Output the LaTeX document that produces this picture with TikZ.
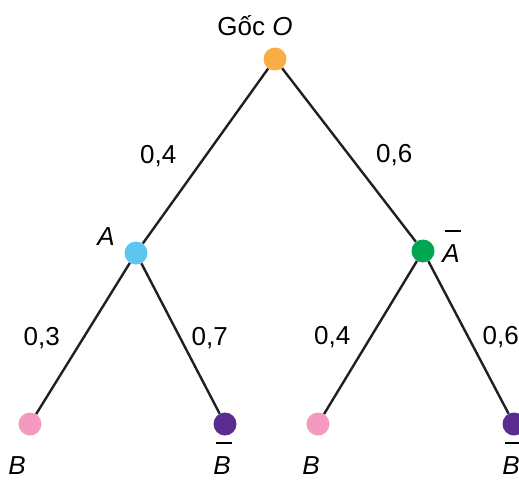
\documentclass[tikz,border=0pt]{standalone}
\usepackage{fontspec}
\setmainfont{Liberation Sans}
\definecolor{rootcol}{HTML}{F9AE45}
\definecolor{acol}{HTML}{5CC6F0}
\definecolor{nacol}{HTML}{00A651}
\definecolor{bcol}{HTML}{F49AC1}
\definecolor{nbcol}{HTML}{5B2C8F}
\definecolor{linecol}{HTML}{231F20}
\newcommand{\itl}[1]{\textit{#1}}
\newcommand{\bartext}[1]{\makebox[0pt][l]{\raisebox{1.17em}{\hspace{0.12em}\rule{0.6em}{2pt}}}\textit{#1}}
\begin{document}
\begin{tikzpicture}
[x=1pt,y=-1pt,font=\fontsize{26}{30}\selectfont,
  nodedecorate/.style={shape=circle,inner sep=0pt,minimum size=23pt,draw=none},%
  linedecorate/.style={-,line width=2.4pt,draw=linecol},
  probdecorate/.style={inner sep=0pt},
  textdecorate/.style={inner sep=0pt,anchor=base}]
\useasboundingbox (0,0) rectangle (519,479);
%% nodes or vertices
\foreach \nodename/\x/\y/\colour in {o/275/59/rootcol, a/136/253/acol,
  na/423/251/nacol, b1/30/424/bcol, nb1/225/424/nbcol,
  b2/318/424/bcol, nb2/514/424/nbcol} {
  \node (\nodename) at (\x,\y) [nodedecorate,fill=\colour] {};
}
%% edges or lines
\path
\foreach \startnode/\endnode/\prob/\direction/\shift in {o/a/{0,4}/left/28,
  o/na/{0,6}/right/26, a/b1/{0,3}/left/22, a/nb1/{0,7}/right/10,
  na/b2/{0,4}/left/19, na/nb2/{0,6}/right/13} {
  (\startnode) edge[linedecorate] node[probdecorate,midway,\direction=\shift pt] {\prob} (\endnode)
};
%% labels
\node[textdecorate] (lo) at (255,35) {Gốc \itl{O}};
\node[textdecorate] (la) at (106,245) {\itl{A}};
\node[textdecorate] (lna) at (451,262) {\bartext{A}};
\node[textdecorate] (lb1) at (17,474) {\itl{B}};
\node[textdecorate] (lnb1) at (222,474) {\bartext{B}};
\node[textdecorate] (lb2) at (311,474) {\itl{B}};
\node[textdecorate] (lnb2) at (511,474) {\bartext{B}};
\end{tikzpicture}
\end{document}
